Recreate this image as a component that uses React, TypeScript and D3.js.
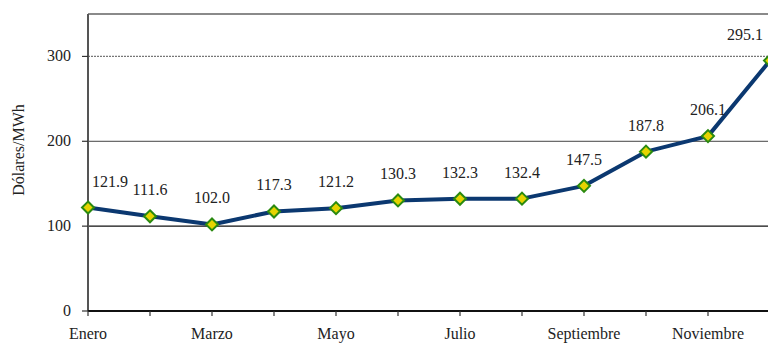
import React, { useEffect, useRef } from "react";
import * as d3 from "d3";

const months = ["Enero","Febrero","Marzo","Abril","Mayo","Junio","Julio","Agosto","Septiembre","Octubre","Noviembre","Diciembre"];
const values = [121.9,111.6,102.0,117.3,121.2,130.3,132.3,132.4,147.5,187.8,206.1,295.1];
const yTicks = [0,100,200,300];
const labelledMonths = ["Enero","Marzo","Mayo","Julio","Septiembre","Noviembre"];
const yTitle = "Dólares/MWh";

const W = 768, H = 348;
const FONT = "Liberation Serif";

export default function App() {
  const ref = useRef<SVGSVGElement>(null);
  useEffect(() => {
    const svg = d3.select(ref.current!);
    svg.selectAll("*").remove();
    const x = d3.scalePoint<string>().domain(months).range([88, 770]);
    const y = d3.scaleLinear().domain([0, 350]).range([311, 14]);
    const left = 88, right = W;
    const hline = (v: number, stroke: string, sw: number, dash?: string) => {
      const l = svg.append("line").attr("x1", left).attr("x2", right).attr("y1", y(v)).attr("y2", y(v))
        .attr("stroke", stroke).attr("stroke-width", sw);
      if (dash) l.attr("stroke-dasharray", dash);
    };
    hline(300, "#777", 1.2, "2,1");
    hline(200, "#444", 1);
    hline(100, "#111", 1.2);
    hline(350, "#8a8a8a", 2);
    svg.append("line").attr("x1", left).attr("x2", left).attr("y1", y(350)).attr("y2", y(0)).attr("stroke", "#555").attr("stroke-width", 2);
    hline(0, "#111", 2);

    const txt = (xx: number, yy: number, s: string, anchor: string) =>
      svg.append("text").attr("x", xx).attr("y", yy).attr("text-anchor", anchor)
        .attr("font-family", FONT).attr("font-size", 16).attr("fill", "#222").text(s);

    yTicks.forEach(t => {
      svg.append("line").attr("x1", left - 6).attr("x2", left).attr("y1", y(t)).attr("y2", y(t)).attr("stroke", "#333").attr("stroke-width", 1.2);
      txt(71, y(t) + 5, String(t), "end");
    });
    months.forEach(m => {
      svg.append("line").attr("x1", x(m)!).attr("x2", x(m)!).attr("y1", y(0)).attr("y2", y(0) + 5).attr("stroke", "#333").attr("stroke-width", 1.2);
    });
    labelledMonths.forEach(m => txt(x(m)!, 339, m, "middle"));
    svg.append("text").attr("transform", "translate(24,150) rotate(-90)").attr("text-anchor", "middle")
      .attr("font-family", FONT).attr("font-size", 16).attr("fill", "#222").text(yTitle);

    const line = d3.line<number>().x((_, i) => x(months[i])!).y(d => y(d));
    svg.append("path").attr("d", line(values)!).attr("fill", "none").attr("stroke", "#0b3870").attr("stroke-width", 4).attr("stroke-linejoin", "round");
    values.forEach((v, i) => {
      svg.append("path").attr("d", "M0,-6L6,0L0,6L-6,0Z").attr("transform", `translate(${x(months[i])},${y(v)})`)
        .attr("fill", "#e6d400").attr("stroke", "#2a8a10").attr("stroke-width", 2);
    });
    values.forEach((v, i) => {
      let px = x(months[i])!;
      if (i === 0) px += 22;
      if (i === values.length - 1) px -= 25;
      txt(px, y(v) - 21, v.toFixed(1), "middle");
    });
  }, []);
  return (
    <svg ref={ref} width={W} height={H} style={{ position: "absolute", left: 0, top: 0, background: "#fff" }} />
  );
}
